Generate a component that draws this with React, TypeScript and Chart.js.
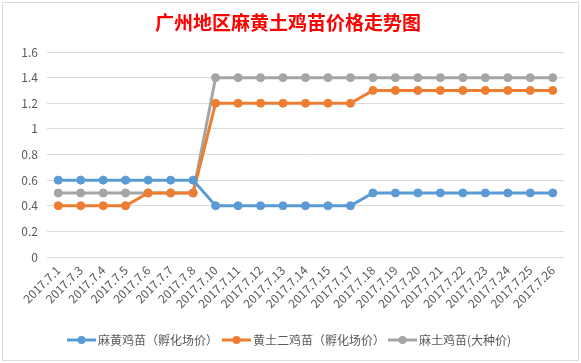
import React, { useEffect, useRef } from "react";
import { Chart, registerables } from "chart.js";

Chart.register(...registerables);

const categories = [
  "2017.7.1", "2017.7.3", "2017.7.4", "2017.7.5", "2017.7.6", "2017.7.7", "2017.7.8",
  "2017.7.10", "2017.7.11", "2017.7.12", "2017.7.13", "2017.7.14", "2017.7.15", "2017.7.17",
  "2017.7.18", "2017.7.19", "2017.7.20", "2017.7.21", "2017.7.22", "2017.7.23", "2017.7.24",
  "2017.7.25", "2017.7.26",
];

const mahuangHatchery = [
  0.6, 0.6, 0.6, 0.6, 0.6, 0.6, 0.6,
  0.4, 0.4, 0.4, 0.4, 0.4, 0.4, 0.4,
  0.5, 0.5, 0.5, 0.5, 0.5, 0.5, 0.5, 0.5, 0.5,
];
const huangtuHatchery = [
  0.4, 0.4, 0.4, 0.4, 0.5, 0.5, 0.5,
  1.2, 1.2, 1.2, 1.2, 1.2, 1.2, 1.2,
  1.3, 1.3, 1.3, 1.3, 1.3, 1.3, 1.3, 1.3, 1.3,
];
const matuBig = [
  0.5, 0.5, 0.5, 0.5, 0.5, 0.5, 0.5,
  1.4, 1.4, 1.4, 1.4, 1.4, 1.4, 1.4,
  1.4, 1.4, 1.4, 1.4, 1.4, 1.4, 1.4, 1.4, 1.4,
];

const seriesNames = ["麻黄鸡苗（孵化场价）", "黄土二鸡苗（孵化场价）", "麻土鸡苗(大种价)"];
const seriesColors = ["#5B9BD5", "#ED7D31", "#A5A5A5"];
const titleText = "广州地区麻黄土鸡苗价格走势图";
const yMin = 0;
const yMax = 1.6;
const yStep = 0.2;

const FONT = "'Noto Sans CJK SC', 'Noto Sans', sans-serif";

const decorPlugin = {
  id: "decor",
  beforeDraw(chart: any) {
    const ctx = chart.ctx;
    ctx.save();
    ctx.fillStyle = "#ffffff";
    ctx.fillRect(0, 0, chart.width, chart.height);
    ctx.strokeStyle = "#D9D9D9";
    ctx.lineWidth = 1;
    ctx.strokeRect(2.5, 2.5, 576, 358);
    ctx.restore();
  },
  afterDraw(chart: any) {
    const ctx = chart.ctx;
    ctx.save();
    // title
    ctx.fillStyle = "#FF0000";
    ctx.font = `bold 19px ${FONT}`;
    ctx.textAlign = "center";
    ctx.textBaseline = "middle";
    ctx.fillText(titleText, 288, 23);
    // legend
    const y = 340;
    const starts = [67, 222, 388];
    chart.data.datasets.forEach((ds: any, i: number) => {
      const x0 = starts[i];
      ctx.strokeStyle = ds.borderColor;
      ctx.lineWidth = 3;
      ctx.beginPath();
      ctx.moveTo(x0, y);
      ctx.lineTo(x0 + 29, y);
      ctx.stroke();
      ctx.fillStyle = ds.borderColor;
      ctx.beginPath();
      ctx.arc(x0 + 14.5, y, 4, 0, Math.PI * 2);
      ctx.fill();
      ctx.fillStyle = "#595959";
      ctx.font = `12px ${FONT}`;
      ctx.textAlign = "left";
      ctx.textBaseline = "middle";
      ctx.fillText(ds.label, x0 + 31, y);
    });
    ctx.restore();
  },
};

export default function App() {
  const ref = useRef<HTMLCanvasElement | null>(null);
  useEffect(() => {
    if (!ref.current) return;
    const values = [mahuangHatchery, huangtuHatchery, matuBig];
    const chart = new Chart(ref.current, {
      type: "line",
      data: {
        labels: categories,
        datasets: values.map((v, i) => ({
          label: seriesNames[i],
          data: v,
          borderColor: seriesColors[i],
          backgroundColor: seriesColors[i],
          borderWidth: 3,
          pointRadius: 4,
          pointBorderWidth: 1,
          pointBackgroundColor: seriesColors[i],
          pointBorderColor: seriesColors[i],
          tension: 0,
          fill: false,
        })),
      },
      options: {
        animation: false,
        responsive: false,
        maintainAspectRatio: false,
        layout: { padding: { left: 7, right: 17, top: 52, bottom: 46 } },
        plugins: {
          legend: { display: false },
          title: { display: false },
          tooltip: { enabled: false },
        },
        scales: {
          x: {
            offset: true,
            afterFit(scale: any) {
              scale.height = 60;
            },
            grid: { display: false, drawTicks: false },
            border: { display: false },
            ticks: {
              autoSkip: false,
              minRotation: 45,
              maxRotation: 45,
              color: "#595959",
              padding: 6,
              font: { family: FONT, size: 12 },
            },
          },
          y: {
            min: yMin,
            max: yMax,
            afterFit(scale: any) {
              scale.width = 40;
            },
            grid: { color: "#D9D9D9", drawTicks: false, lineWidth: 1 },
            border: { display: false },
            ticks: {
              stepSize: yStep,
              color: "#595959",
              padding: 9,
              font: { family: FONT, size: 12 },
              callback: (v: any) => String(Math.round(Number(v) * 10) / 10),
            },
          },
        },
      },
      plugins: [decorPlugin],
    });
    return () => chart.destroy();
  }, []);
  return (
    <div style={{ position: "fixed", left: 0, top: 0, width: 581, height: 363 }}>
      <canvas ref={ref} width={581} height={363} style={{ width: 581, height: 363 }} />
    </div>
  );
}
